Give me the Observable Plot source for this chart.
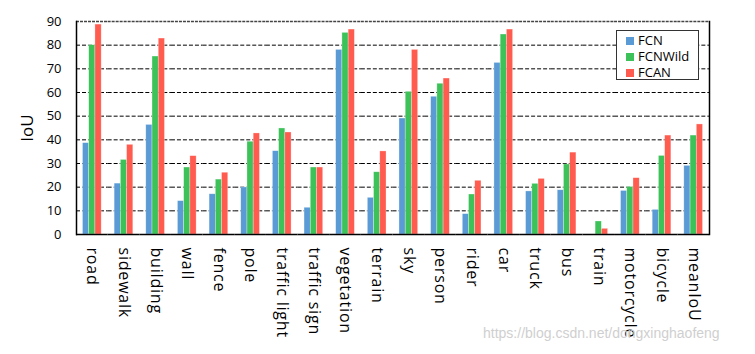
<!DOCTYPE html>
<html>
<head>
<meta charset="utf-8">
<script src="https://cdn.jsdelivr.net/npm/d3@7"></script>
<script src="https://cdn.jsdelivr.net/npm/@observablehq/plot@0.6"></script>
<style>
  body { margin: 0; background: #fff; }
  #wrap { position: relative; width: 755px; height: 354px; font-family: "Open Sans", sans-serif; }
  #legend { position: absolute; left: 616px; top: 30px; width: 81px; height: 48px; border: 1.5px solid #333; background: #fff; font-size: 13px; color: #000; }
  #legend .item { position: absolute; left: 9px; height: 15px; line-height: 15px; }
  #legend .sw { display: inline-block; width: 8px; height: 8px; margin-right: 4px; vertical-align: 0px; }
  #wm { position: absolute; left: 483px; top: 325px; font: 14px "Liberation Sans", Arial, sans-serif; color: #cfcfcf; white-space: nowrap; }
</style>
</head>
<body>
<div id="wrap"></div>
<script>
const cats = ["road","sidewalk","building","wall","fence","pole","traffic light","traffic sign","vegetation","terrain","sky","person","rider","car","truck","bus","train","motorcycle","bicycle","meanIoU"];
const fcn     = [38.6, 21.5, 46.3, 14.1, 17.0, 19.9, 35.2, 11.3, 78.0, 15.5, 49.0, 58.2, 8.6, 72.5, 18.2, 18.7, 0.0, 18.4, 10.4, 29.0];
const fcnWild = [80.0, 31.5, 75.2, 28.3, 23.2, 39.2, 44.8, 28.3, 85.2, 26.3, 60.3, 63.7, 16.9, 84.5, 21.4, 29.6, 5.5, 20.1, 33.2, 41.8];
const fcan    = [88.7, 37.9, 82.8, 33.1, 26.1, 42.7, 43.1, 28.3, 86.6, 35.1, 78.0, 65.9, 22.7, 86.6, 23.5, 34.6, 2.4, 23.8, 41.8, 46.5];
const series = ["FCN", "FCNWild", "FCAN"];
const colors = ["#5B9BD5", "#3DC25A", "#FF5B4F"];
const yTicks = [0, 10, 20, 30, 40, 50, 60, 70, 80, 90];

const values = [fcn, fcnWild, fcan];
const data = cats.flatMap((c, i) => series.map((s, j) => ({category: c, series: s, value: values[j][i]})));

const chart = Plot.plot({
  width: 755,
  height: 354,
  marginLeft: 76,
  marginRight: 46,
  marginTop: 21,
  marginBottom: 120,
  style: {fontFamily: "Open Sans, sans-serif", color: "#000", background: "#fff"},
  fx: {domain: cats, padding: 0, round: false},
  x: {domain: series, paddingInner: 0, paddingOuter: 1.04, round: false, axis: null},
  y: {domain: [0, 90]},
  color: {domain: series, range: colors},
  marks: [
    Plot.ruleY(yTicks.slice(1, -1), {stroke: "#000", strokeDasharray: "4,2", strokeWidth: 1}),
    Plot.ruleY([90], {stroke: "#444", strokeDasharray: "3,1", strokeWidth: 1.5}),
    Plot.barY(data, {fx: "category", x: "series", y: "value", fill: "series", stroke: "#fff", strokeOpacity: 0.5, strokeWidth: 0.6}),
    Plot.ruleY([0], {stroke: "#000", strokeWidth: 1.5}),
    Plot.frame({anchor: "left", facetAnchor: "left", stroke: "#000", strokeWidth: 1.5}),
    Plot.frame({anchor: "right", facetAnchor: "right", stroke: "#000", strokeWidth: 1.5}),
    Plot.axisY({ticks: yTicks, tickSize: 0, tickPadding: 15, fontSize: 13, label: "IoU", labelAnchor: "center", labelArrow: "none", labelOffset: 56}),
    Plot.axisFx({anchor: "bottom", tickRotate: 90, tickSize: 0, tickPadding: 13, fontSize: 16, label: null})
  ]
});

const wrap = document.getElementById("wrap");
wrap.appendChild(chart);
d3.select(chart).selectAll('g[aria-label="y-axis label"] text').attr("font-size", 17);
d3.select(chart).selectAll('g[aria-label="fx-axis tick label"] text').style("letter-spacing", "0.8px");

const legend = document.createElement("div");
legend.id = "legend";
series.forEach((s, j) => {
  const it = document.createElement("div");
  it.className = "item";
  it.style.top = (2 + j * 16) + "px";
  it.innerHTML = `<span class="sw" style="background:${colors[j]}"></span>${s}`;
  legend.appendChild(it);
});
wrap.appendChild(legend);

const wm = document.createElement("div");
wm.id = "wm";
wm.textContent = "https://blog.csdn.net/dongxinghaofeng";
wrap.appendChild(wm);
</script>
</body>
</html>
